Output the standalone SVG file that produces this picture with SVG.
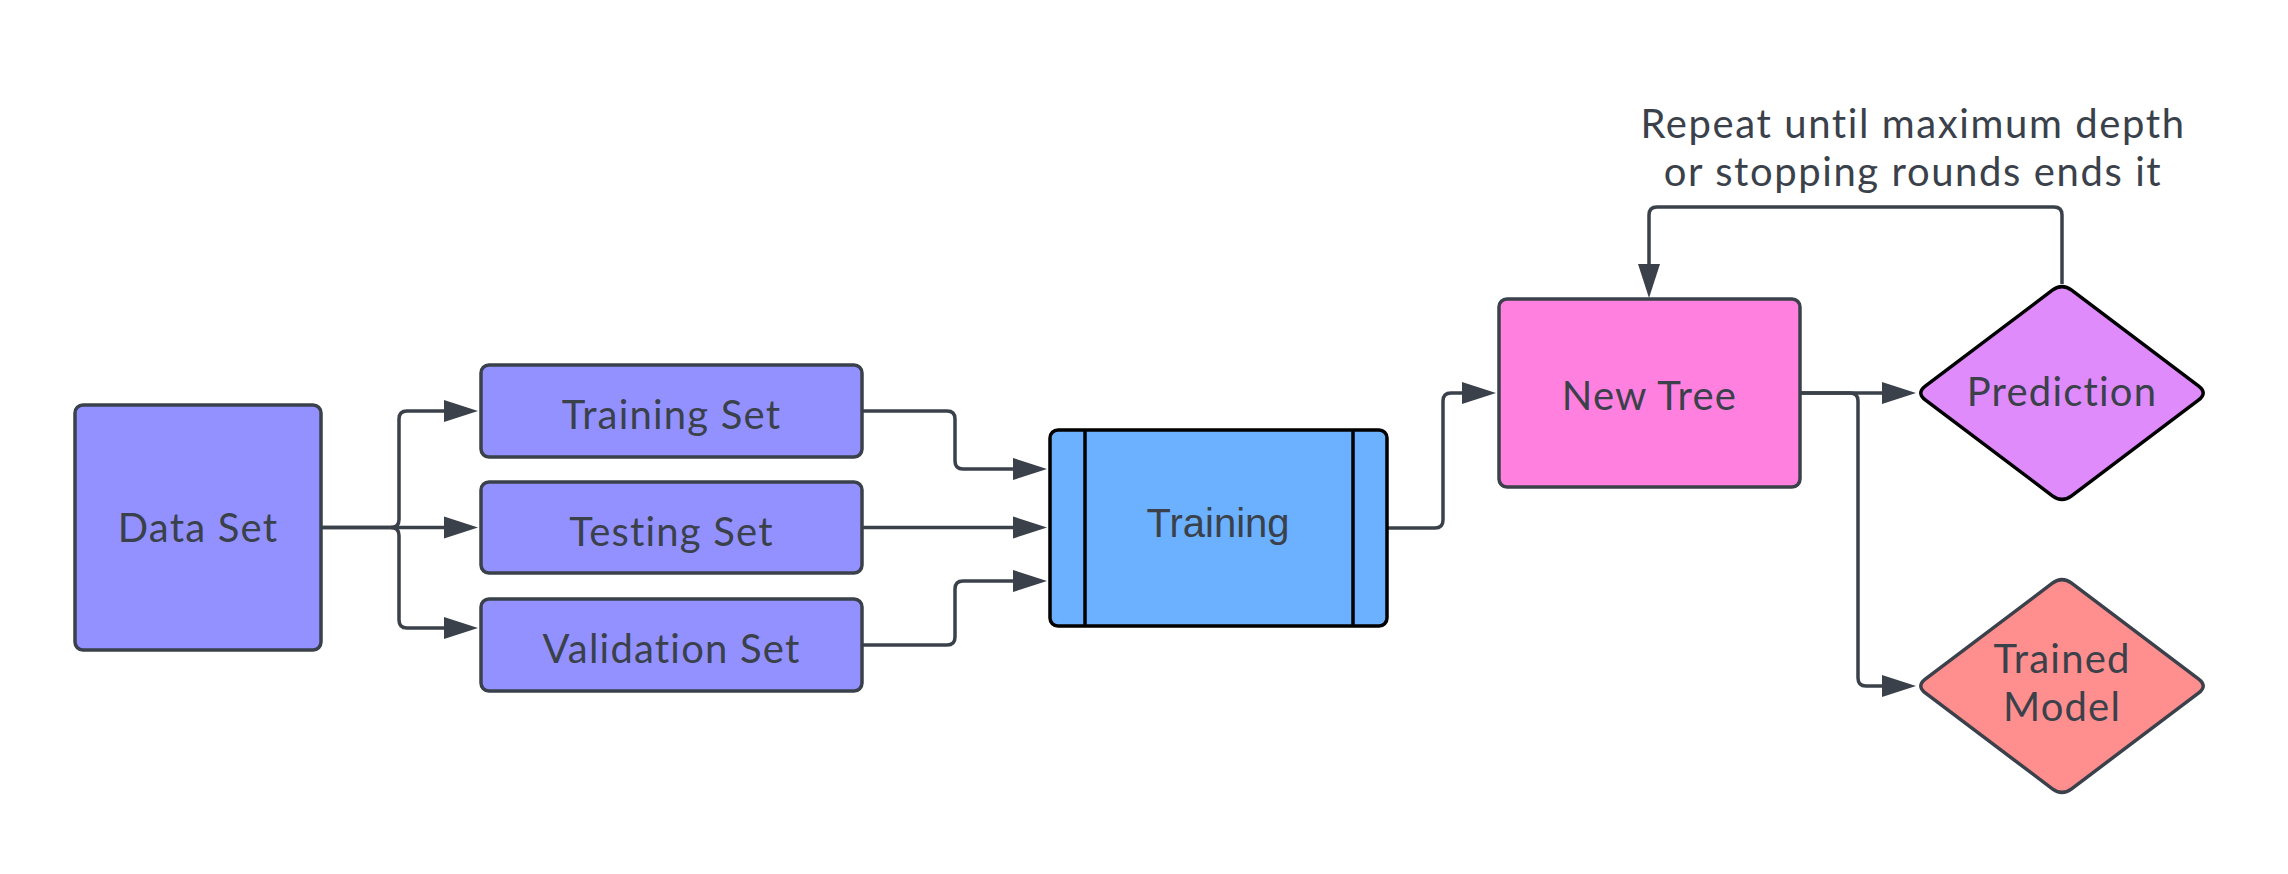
<svg xmlns="http://www.w3.org/2000/svg" width="2288" height="874" viewBox="0 0 2288 874">
<style>
.n{stroke:#3a414a;stroke-width:3.5}
.t{font-family:Lato,"Open Sans",sans-serif;font-size:40px;letter-spacing:1.2px;fill:#3a414a;text-anchor:middle}
.l{letter-spacing:1.6px}
.c{fill:none;stroke:#3a414a;stroke-width:3.5}
</style>
<defs>
<marker id="ah" markerUnits="userSpaceOnUse" markerWidth="36" markerHeight="24" refX="1" refY="12" orient="auto">
<path d="M0,1 L34,12 L0,23 Z" fill="#3a414a"/>
</marker>
</defs>
<rect width="2288" height="874" fill="#ffffff"/>
<g id="connectors">
<path class="c" marker-end="url(#ah)" d="M321,527.5 H391 Q399,527.5 399,519.5 V419 Q399,411 407,411 H445"/>
<path class="c" marker-end="url(#ah)" d="M321,527.5 H445"/>
<path class="c" marker-end="url(#ah)" d="M391,527.5 Q399,527.5 399,535.5 V620 Q399,628 407,628 H445"/>
<path class="c" marker-end="url(#ah)" d="M862,411 H947 Q955,411 955,419 V461 Q955,469 963,469 H1014"/>
<path class="c" marker-end="url(#ah)" d="M862,527.5 H1014"/>
<path class="c" marker-end="url(#ah)" d="M862,645 H947 Q955,645 955,637 V589 Q955,581 963,581 H1014"/>
<path class="c" marker-end="url(#ah)" d="M1387,528 H1435 Q1443,528 1443,520 V401 Q1443,393 1451,393 H1463"/>
<path class="c" marker-end="url(#ah)" d="M1800,393 H1883"/>
<path class="c" marker-end="url(#ah)" d="M1800,393 H1850 Q1858,393 1858,401 V678 Q1858,686 1866,686 H1883"/>
<path class="c" marker-end="url(#ah)" d="M2062,284 V215 Q2062,207 2054,207 H1657 Q1649,207 1649,215 V265"/>
</g>
<g id="data-set">
<rect class="n" x="75" y="405" width="246" height="245" rx="8" fill="#9391ff"/>
<text class="t" x="198" y="542">Data Set</text>
</g>
<g id="training-set">
<rect class="n" x="481" y="365" width="381" height="92" rx="8" fill="#9391ff"/>
<text class="t" x="671.5" y="429">Training Set</text>
</g>
<g id="testing-set">
<rect class="n" x="481" y="482" width="381" height="91" rx="8" fill="#9391ff"/>
<text class="t" x="671.5" y="546">Testing Set</text>
</g>
<g id="validation-set">
<rect class="n" x="481" y="599" width="381" height="92" rx="8" fill="#9391ff"/>
<text class="t" x="671.5" y="663">Validation Set</text>
</g>
<g id="training">
<rect x="1050" y="430" width="337" height="196" rx="8" fill="#6cb1ff" stroke="#000000" stroke-width="3.5"/>
<line x1="1085" y1="430" x2="1085" y2="626" stroke="#000000" stroke-width="3.5"/>
<line x1="1353" y1="430" x2="1353" y2="626" stroke="#000000" stroke-width="3.5"/>
<text x="1218" y="537" font-family="'Liberation Sans',Arial,sans-serif" font-size="40" fill="#3a414a" text-anchor="middle">Training</text>
</g>
<g id="new-tree">
<rect class="n" x="1499" y="299" width="301" height="188" rx="8" fill="#ff80df"/>
<text class="t" x="1649.5" y="410">New Tree</text>
</g>
<g id="prediction">
<path d="M2052.4,290.2 Q2062,283 2071.6,290.2 L2198.4,385.8 Q2208,393 2198.4,400.2 L2071.6,495.8 Q2062,503 2052.4,495.8 L1925.6,400.2 Q1916,393 1925.6,385.8 Z" fill="#df8bfc" stroke="#000000" stroke-width="3.5"/>
<text class="t" x="2062" y="406">Prediction</text>
</g>
<g id="trained-model">
<path class="n" d="M2052.4,583.2 Q2062,576 2071.6,583.2 L2198.4,678.8 Q2208,686 2198.4,693.2 L2071.6,788.8 Q2062,796 2052.4,788.8 L1925.6,693.2 Q1916,686 1925.6,678.8 Z" fill="#ff8f8f"/>
<text class="t" x="2062" y="673">Trained</text>
<text class="t" x="2062" y="721">Model</text>
</g>
<g id="loop-label">
<text class="t l" x="1913" y="138">Repeat until maximum depth</text>
<text class="t l" x="1913" y="186">or stopping rounds ends it</text>
</g>
</svg>
